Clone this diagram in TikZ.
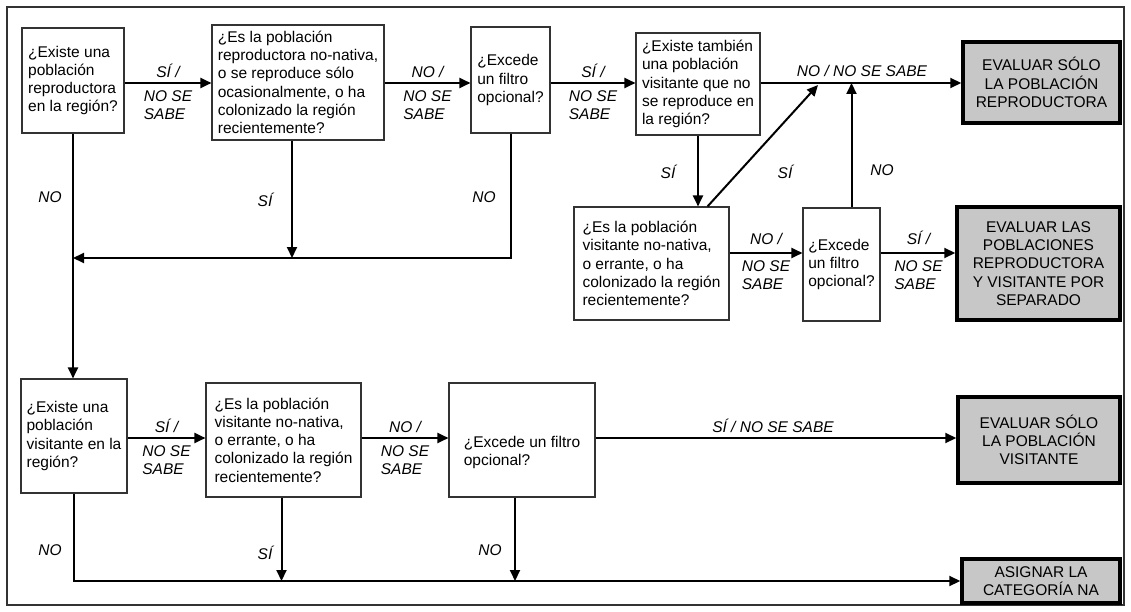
\documentclass[tikz,border=0pt]{standalone}
\usepackage{fontspec}
\setmainfont{Liberation Sans}
\usetikzlibrary{arrows.meta}
\begin{document}
\begin{tikzpicture}[x=1pt,y=-1pt,
  txt/.style={font=\fontsize{15.5}{18.3}\selectfont},
  qbox/.style={txt, draw=black!80, line width=1.1pt, fill=white, align=left, inner xsep=4pt, inner ysep=2pt},
  res/.style={txt, draw=black, line width=3.5pt, fill=black!22, align=center, inner sep=2pt},
  arr/.style={line width=2pt, -{Triangle[length=11pt,width=10pt]}},
  lab/.style={font=\itshape\fontsize{15.5}{18}\selectfont, align=left, inner sep=0pt},
  frame/.style={draw=black!80, line width=1.2pt}]
\useasboundingbox (0,0) rectangle (1131,612);
\draw[frame] (7,7) rectangle (1124,605);

% top row
\node[qbox, minimum width=102pt, minimum height=105pt] (A) at (73,80.5)
  {¿Existe una\\población\\reproductora\\en la región?};
\node[qbox, minimum width=172pt, minimum height=115pt] (B) at (298,82.5)
  {¿Es la población\\reproductora no-nativa,\\o se reproduce sólo\\ocasionalmente, o ha\\colonizado la región\\recientemente?};
\node[qbox, minimum width=79pt, minimum height=106pt] (C) at (510.5,80)
  {¿Excede\\un filtro\\opcional?};
\node[qbox, minimum width=124pt, minimum height=102pt] (D) at (698,84)
  {¿Existe también\\una población\\visitante que no\\se reproduce en\\la región?};
\node[res, minimum width=157pt, minimum height=81pt] (R1) at (1041.5,82.5)
  {EVALUAR SÓLO\\LA POBLACIÓN\\REPRODUCTORA};

% middle right row
\node[qbox, minimum width=155pt, minimum height=113pt] (E) at (651.5,263.5)
  {¿Es la población\\visitante no-nativa,\\o errante, o ha\\colonizado la región\\recientemente?};
\node[qbox, minimum width=77pt, minimum height=113pt] (F) at (841.5,264.5)
  {¿Excede\\un filtro\\opcional?};
\node[res, minimum width=163pt, minimum height=113pt] (R2) at (1038.5,263.5)
  {EVALUAR LAS\\POBLACIONES\\REPRODUCTORA\\Y VISITANTE POR\\SEPARADO};

% bottom row
\node[qbox, minimum width=106pt, minimum height=114pt] (G) at (74,436)
  {¿Existe una\\población\\visitante en la\\región?};
\node[qbox, minimum width=155pt, minimum height=114pt] (H) at (283.5,440)
  {¿Es la población\\visitante no-nativa,\\o errante, o ha\\colonizado la región\\recientemente?};
\node[qbox, minimum width=146pt, minimum height=114pt] (I) at (522,440)
  {\mbox{}\\[18pt]¿Excede un filtro\\opcional?};
\node[res, minimum width=162pt, minimum height=86pt] (R3) at (1039,440)
  {EVALUAR SÓLO\\LA POBLACIÓN\\VISITANTE};
\node[res, minimum width=158pt, minimum height=44pt] (R4) at (1041,581)
  {ASIGNAR LA\\CATEGORÍA NA};

% rows of arrows
\coordinate (y1) at (0,83);
\coordinate (y2) at (0,253);
\coordinate (y3) at (0,438);
\coordinate (ym) at (0,258);

\draw[arr] (A.east |- y1) -- (B.west |- y1);
\draw[arr] (B.east |- y1) -- (C.west |- y1);
\draw[arr] (C.east |- y1) -- (D.west |- y1);
\draw[arr] (D.east |- y1) -- (R1.west |- y1);

\draw[arr] (E.east |- y2) -- (F.west |- y2);
\draw[arr] (F.east |- y2) -- (R2.west |- y2);

\draw[arr] (G.east |- y3) -- (H.west |- y3);
\draw[arr] (H.east |- y3) -- (I.west |- y3);
\draw[arr] (I.east |- y3) -- (R3.west |- y3);

% verticals
\draw[arr] (A.south) -- (A.south |- G.north);
\draw[arr] (C.south) |- (A.south |- ym);
\draw[arr] ([xshift=-6pt]B.south) -- ([xshift=-6pt]B.south |- ym);
\draw[arr] (D.south) -- (D.south |- E.north);
\draw[arr] ([xshift=56pt]E.north) -- (818,85);
\draw[arr] ([xshift=10pt]F.north) -- ([xshift=10pt]F.north |- y1);

\draw[arr] (G.south) |- (R4.west);
\draw[arr] ([xshift=-2pt]H.south) -- ([xshift=-2pt]H.south |- R4.west);
\draw[arr] ([xshift=-7pt]I.south) -- ([xshift=-7pt]I.south |- R4.west);

% labels on horizontal arrows
\node[lab, anchor=south] at (168,78) {SÍ /};
\node[lab, anchor=north] at (168,90) {NO SE\\SABE};
\node[lab, anchor=south] at (427.5,78) {NO /};
\node[lab, anchor=north] at (427.5,90) {NO SE\\SABE};
\node[lab, anchor=south] at (593,78) {SÍ /};
\node[lab, anchor=north] at (593,90) {NO SE\\SABE};
\node[lab, anchor=south] at (862,77) {NO / NO SE SABE};

\node[lab, anchor=south] at (766,245) {NO /};
\node[lab, anchor=north] at (766,260) {NO SE\\SABE};
\node[lab, anchor=south] at (918.5,245) {SÍ /};
\node[lab, anchor=north] at (918.5,260) {NO SE\\SABE};

\node[lab, anchor=south] at (166.5,433) {SÍ /};
\node[lab, anchor=north] at (166.5,445) {NO SE\\SABE};
\node[lab, anchor=south] at (405,433) {NO /};
\node[lab, anchor=north] at (405,445) {NO SE\\SABE};
\node[lab, anchor=south] at (773,433) {SÍ / NO SE SABE};

% labels on vertical arrows
\node[lab] at (50,197) {NO};
\node[lab] at (265,200) {SÍ};
\node[lab] at (484,197) {NO};
\node[lab] at (668,172) {SÍ};
\node[lab] at (785,172) {SÍ};
\node[lab] at (882,170) {NO};
\node[lab] at (50,550) {NO};
\node[lab] at (265,553) {SÍ};
\node[lab] at (490,550) {NO};
\end{tikzpicture}
\end{document}
